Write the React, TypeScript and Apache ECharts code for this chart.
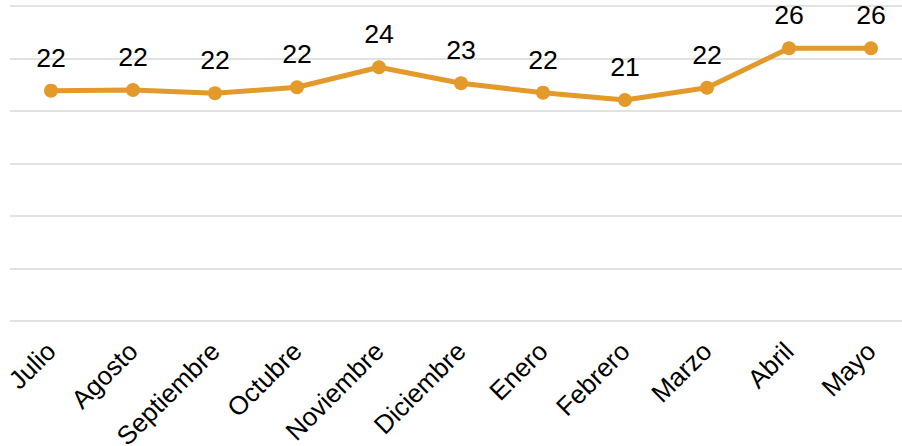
import React, { useEffect, useRef } from "react";
import * as echarts from "echarts";

const months = ["Julio", "Agosto", "Septiembre", "Octubre", "Noviembre", "Diciembre", "Enero", "Febrero", "Marzo", "Abril", "Mayo"];
const values = [21.93, 21.99, 21.68, 22.25, 24.16, 22.63, 21.74, 21.04, 22.21, 25.97, 25.97];
const yMin = 0;
const yMax = 30;
const yStep = 5;

export default function App() {
  const ref = useRef<HTMLDivElement>(null);
  useEffect(() => {
    if (!ref.current) return;
    const chart = echarts.init(ref.current, undefined, { renderer: "svg" });
    const font = "'Liberation Sans', Arial, sans-serif";
    chart.setOption({
      animation: false,
      backgroundColor: "#ffffff",
      grid: { left: 10, top: 6, width: 902, bottom: 125.3, containLabel: false, outerBoundsMode: "none" },
      xAxis: {
        type: "category",
        data: months,
        boundaryGap: true,
        axisLine: { show: false },
        axisTick: { show: false },
        axisLabel: {
          rotate: 45,
          interval: 0,
          margin: 26,
          color: "#000000",
          fontSize: 26,
          fontFamily: font,
          hideOverlap: false,
        },
      },
      yAxis: {
        type: "value",
        min: yMin,
        max: yMax,
        interval: yStep,
        axisLabel: { show: false },
        axisLine: { show: false },
        axisTick: { show: false },
        splitLine: { lineStyle: { color: "#D9D9D9", width: 1.5 } },
      },
      series: [
        {
          type: "line",
          data: values,
          symbol: "circle",
          symbolSize: 14,
          lineStyle: { color: "#E39A2B", width: 5 },
          itemStyle: { color: "#E39A2B" },
          label: {
            show: true,
            position: "top",
            distance: 12.5,
            color: "#000000",
            fontSize: 26.7,
            fontFamily: font,
            formatter: (p: any) => String(Math.round(p.value)),
          },
        },
      ],
    });
    return () => chart.dispose();
  }, []);
  return <div ref={ref} style={{ position: "fixed", left: 0, top: 0, width: 902, height: 446 }} />;
}
